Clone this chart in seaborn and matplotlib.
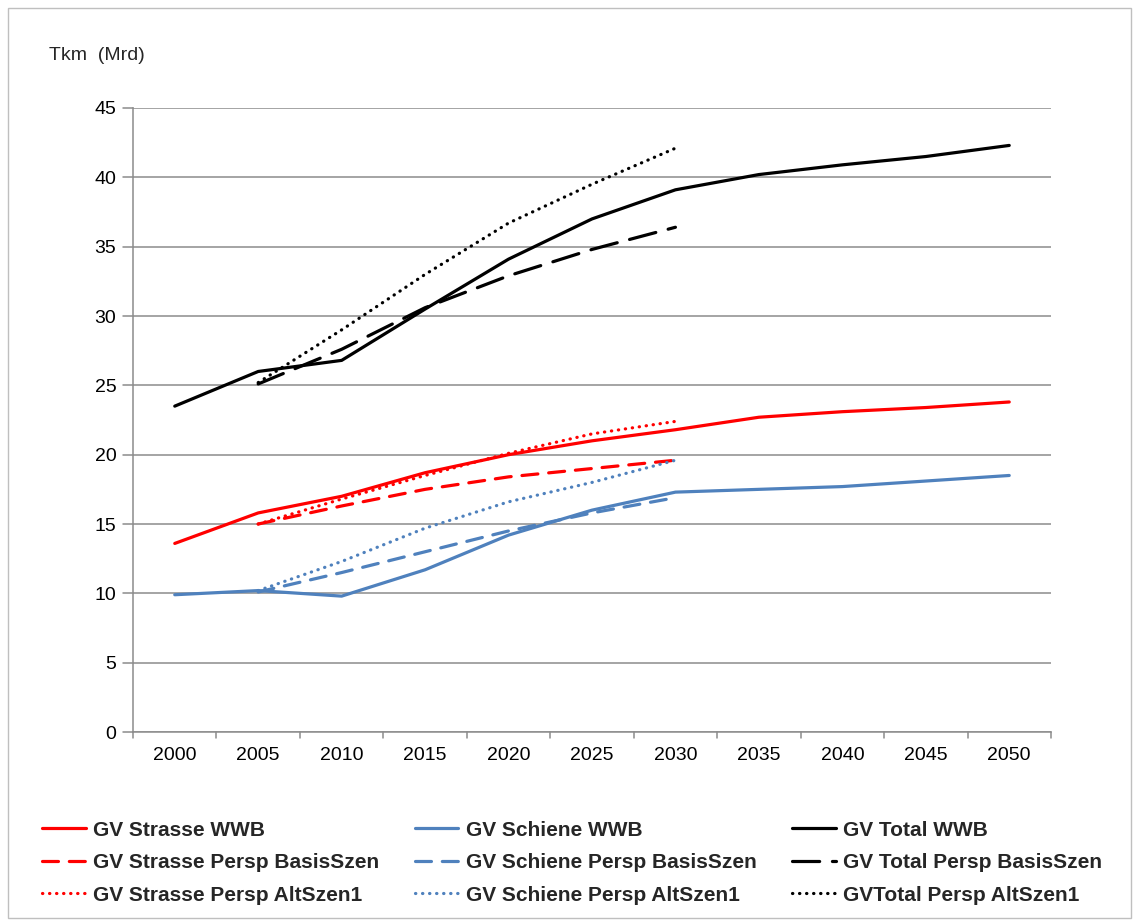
import pandas as pd
import matplotlib.pyplot as plt
import matplotlib.patches as mpatches
import seaborn as sns

# years on the category axis
years = ['2000', '2005', '2010', '2015', '2020', '2025', '2030', '2035', '2040', '2045', '2050']
persp_years = years[1:7]

# WWB series (2000-2050)
strasse_wwb = [13.6, 15.8, 17.0, 18.7, 20.0, 21.0, 21.8, 22.7, 23.1, 23.4, 23.8]
schiene_wwb = [9.9, 10.2, 9.8, 11.7, 14.2, 16.0, 17.3, 17.5, 17.7, 18.1, 18.5]
total_wwb = [23.5, 26.0, 26.8, 30.5, 34.1, 37.0, 39.1, 40.2, 40.9, 41.5, 42.3]

# Perspektiven series (2005-2030)
strasse_basis = [15.0, 16.3, 17.5, 18.4, 19.0, 19.6]
schiene_basis = [10.1, 11.5, 13.0, 14.5, 15.8, 16.9]
total_basis = [25.1, 27.6, 30.6, 32.9, 34.8, 36.4]
strasse_alt = [15.0, 16.8, 18.5, 20.1, 21.5, 22.4]
schiene_alt = [10.2, 12.3, 14.7, 16.6, 18.0, 19.6]
total_alt = [25.2, 29.0, 33.0, 36.7, 39.5, 42.1]

labels = ['GV Strasse WWB', 'GV Schiene WWB', 'GV Total WWB',
          'GV Strasse Persp BasisSzen', 'GV Schiene Persp BasisSzen', 'GV Total Persp BasisSzen',
          'GV Strasse Persp AltSzen1', 'GV Schiene Persp AltSzen1', 'GVTotal Persp AltSzen1']

red = '#FF0000'
blue = '#4F81BD'
black = '#000000'

sns.set_style("white")
plt.rcParams['font.family'] = ['Liberation Sans', 'DejaVu Sans']

fig = plt.figure(figsize=(11.39, 9.23), dpi=100)
ax = fig.add_axes([0.1168, 0.2069, 0.8059, 0.6761])

idx = {y: i for i, y in enumerate(years)}
x_all = [idx[y] for y in years]
x_p = [idx[y] for y in persp_years]

lw = 2.3
dash_s = (0, (5.0, 3.4))
dash_l = (0, (8.5, 4.0))
dot = (0, (0.1, 2.1))

series = [
    (x_all, strasse_wwb, red, '-', labels[0]),
    (x_all, schiene_wwb, blue, '-', labels[1]),
    (x_all, total_wwb, black, '-', labels[2]),
    (x_p, strasse_basis, red, dash_s, labels[3]),
    (x_p, schiene_basis, blue, dash_s, labels[4]),
    (x_p, total_basis, black, dash_l, labels[5]),
    (x_p, strasse_alt, red, dot, labels[6]),
    (x_p, schiene_alt, blue, dot, labels[7]),
    (x_p, total_alt, black, dot, labels[8]),
]

handles = {}
for xs, ys, c, ls, lab in series:
    df = pd.DataFrame({'x': xs, 'y': ys})
    sns.lineplot(data=df, x='x', y='y', ax=ax, color=c, linewidth=lw,
                 linestyle=ls, dash_capstyle='round', label=lab, legend=False)
    handles[lab] = ax.lines[-1]

ax.set_xlim(-0.5, 10.5)
ax.set_ylim(0, 45)
ax.set_yticks(range(0, 46, 5))
ax.set_xticks(range(len(years)))
ax.set_xticklabels(years)
ax.set_xlabel('')
ax.set_ylabel('')
ax.tick_params(axis='both', labelsize=14, colors='#000000', length=0)
ax.tick_params(axis='y', pad=12)
ax.tick_params(axis='x', pad=11)
ax.grid(axis='y', color='#8C8C8C', linewidth=1.1)
ax.set_axisbelow(True)
for s in ['top', 'right']:
    ax.spines[s].set_visible(False)
for s in ['left', 'bottom']:
    ax.spines[s].set_color('#8C8C8C')
    ax.spines[s].set_linewidth(1.1)

# tick marks: left axis outward, x-axis between categories
for v in range(0, 46, 5):
    ax.plot([-0.62, -0.5], [v, v], color='#8C8C8C', lw=1.1, clip_on=False)
for b in range(12):
    ax.plot([b - 0.5, b - 0.5], [0, -0.4], color='#8C8C8C', lw=1.1, clip_on=False)

fig.text(0.043, 0.935, 'Tkm  (Mrd)', fontsize=14)

# legend ordered column-wise so it reads row-wise like the original
order = [labels[0], labels[3], labels[6], labels[1], labels[4], labels[7],
         labels[2], labels[5], labels[8]]
leg = fig.legend([handles[l] for l in order], order, loc='upper left',
                 bbox_to_anchor=(0.037, 0.111), ncol=3, frameon=False,
                 prop={'size': 15, 'weight': 'bold'}, handlelength=2.1,
                 handletextpad=0.35, columnspacing=1.7, labelspacing=0.65,
                 borderpad=0, borderaxespad=0)

fig.patches.append(mpatches.Rectangle((0.007, 0.005), 0.986, 0.986, transform=fig.transFigure,
                                      fill=False, edgecolor='#BFBFBF', linewidth=1))

fig.savefig('out.png', dpi=100)
